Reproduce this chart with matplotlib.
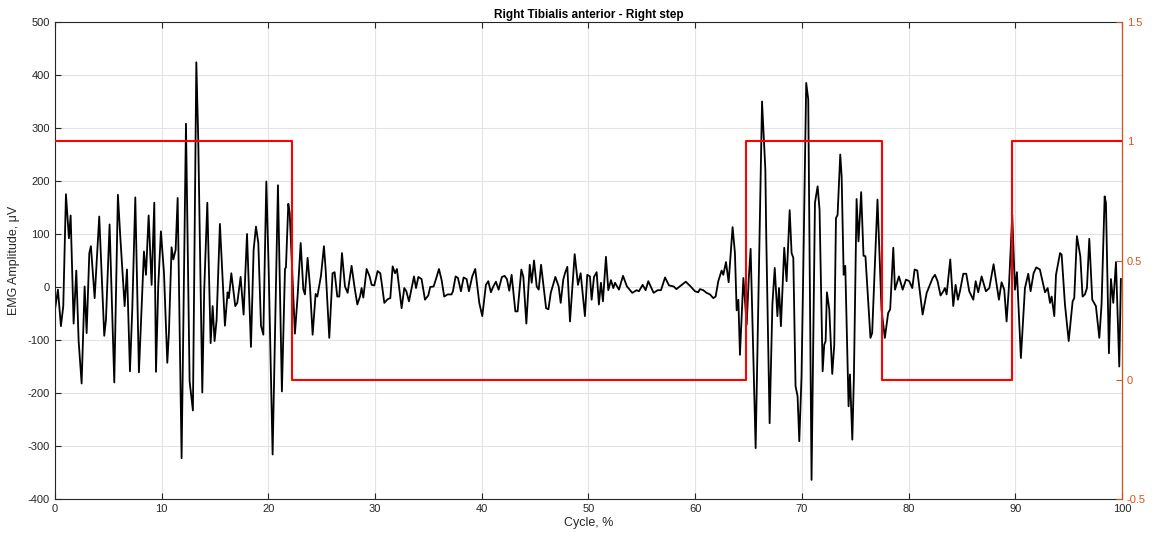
import numpy as np
import matplotlib
matplotlib.use("Agg")
from matplotlib import pyplot as plt

plt.rcParams['font.family'] = ['Liberation Sans', 'DejaVu Sans']
plt.rcParams['axes.unicode_minus'] = False

# EMG signal (cycle %, amplitude uV)
cycle = [0, 0.28, 0.56, 0.78, 1.03, 1.31, 1.47, 1.75, 2.0, 2.22, 2.5, 2.78, 2.97, 3.22, 3.37, 3.72,
         4.15, 4.62, 4.78, 5.12, 5.56, 5.9, 6.12, 6.53, 6.75, 7.03, 7.25, 7.53, 7.87, 8.34, 8.53,
         8.78, 9.06, 9.31, 9.47,
         9.68, 9.93, 10.22, 10.53, 10.68, 10.93, 11.09, 11.31, 11.5, 11.87, 12.28, 12.62, 12.93,
         13.25, 13.43, 13.81, 13.99, 14.28, 14.59, 14.78, 14.96, 15.15, 15.46, 15.93, 16.18, 16.3,
         16.53, 16.9, 17.09, 17.4, 17.68, 18.0, 18.37, 18.62, 18.84, 19.06, 19.31, 19.53,
         19.81, 20.03, 20.4, 20.9, 21.27, 21.56, 21.65, 21.87, 22.0, 22.49, 22.74, 23.03, 23.28,
         23.43, 23.68, 23.9, 24.15, 24.43, 24.59, 24.93, 25.21, 25.37, 25.71, 26.02, 26.21, 26.46,
         26.65, 26.9, 27.18, 27.43, 27.8, 28.09, 28.34, 28.59, 28.74, 28.9, 29.21,
         29.49, 29.68, 29.93, 30.24, 30.49, 30.62, 30.87, 31.18, 31.43, 31.65, 31.87, 32.05, 32.49,
         32.74, 32.93, 33.18, 33.65, 33.84, 34.06, 34.36, 34.68, 34.99, 35.17, 35.49, 35.71, 35.99,
         36.24, 36.48, 36.8, 37.17, 37.3, 37.55, 37.77, 38.05, 38.3, 38.58, 38.8, 39.11, 39.39,
         39.77, 40.05, 40.39, 40.61, 40.86, 41.08, 41.33, 41.58, 41.89, 42.14, 42.36, 42.58, 42.8,
         43.15, 43.36, 43.71, 43.9, 44.18, 44.5, 44.68, 44.9, 45.15, 45.34, 45.56, 46.03, 46.25,
         46.47, 46.9, 47.21, 47.4, 47.64, 47.8, 48.02, 48.27, 48.71, 49.02, 49.27, 49.67,
         49.89, 50.14, 50.3, 50.52, 50.77, 50.98, 51.17, 51.36, 51.64, 51.86, 52.11, 52.33, 52.49,
         52.86, 53.24, 53.61, 54.11, 54.52, 54.73, 55.08, 55.36, 55.61, 56.11, 56.49, 56.8, 57.18,
         57.55, 57.99, 58.24, 58.74, 59.12,
         59.58, 59.98, 60.29, 60.45, 60.76, 61.07, 61.39, 61.7, 61.92, 62.17, 62.48, 62.64, 62.89,
         63.14, 63.51, 63.73, 63.89, 64.05, 64.2, 64.52, 64.83, 65.02, 65.2, 65.67, 66.27, 66.58,
         66.67, 66.98, 67.24, 67.46, 67.71, 67.86, 68.04, 68.35, 68.57, 68.86,
         69.04, 69.2, 69.41, 69.6, 69.76, 69.97, 70.13, 70.41, 70.6, 70.91, 71.23, 71.48, 71.66,
         71.95, 72.1, 72.23, 72.35, 72.57, 72.85, 73.04, 73.2, 73.35, 73.6, 73.73, 73.92, 74.07,
         74.38, 74.51, 74.73, 74.88, 75.13, 75.31, 75.56, 75.78, 75.96, 76.43, 76.59, 77.09, 77.47,
         77.78, 78.09, 78.28,
         78.57, 78.73, 79.1, 79.45, 79.76, 80.07, 80.35, 80.57, 80.82, 81.07, 81.32, 81.7, 82.0,
         82.26, 82.48, 82.72, 83.0, 83.26, 83.41, 83.57, 83.91, 84.19, 84.41, 84.63, 84.82, 85.13,
         85.41, 85.69, 86.07, 86.29, 86.53, 86.85, 87.25, 87.57, 87.97,
         88.47, 88.72, 88.97, 89.19, 89.41, 89.72, 89.97, 90.16, 90.53, 90.91, 91.22, 91.44, 91.72,
         91.97, 92.31, 92.79, 93.04, 93.26, 93.41, 93.66, 93.82, 94.2, 94.35, 94.66, 95.01, 95.38,
         95.53, 95.78, 96.1, 96.31, 96.53, 96.72, 96.94, 97.22, 97.56, 97.88, 98.09, 98.38, 98.5,
         98.78, 98.97, 99.19, 99.44, 99.75, 99.9]
emg = [-43, -5, -74, -36, 175, 92, 135, -69, 31, -102, -182, 1, -87, 64, 77, -21,
       133, -92, -62, 118, -180, 174, 96, -36, 33, -159, -40, 169, -161, 67, 23,
       135, 4, 159, -160,
       1, 105, 26, -143, -87, 75, 52, 70, 168, -323, 308, -178, -233,
       424, 278, -199, -5, 159, -106, -36, -102, -62, 119, -73, -10, -21,
       26, -36, -30, 19, -52, 100, -113, 70, 114, 83, -73, -90,
       199, 34, -316, 192, -197, 34, 37, 157, 140, -88, -18, 83, -5,
       -14, 55, 1, -90, -13, -18, 21, 77, 33, -96, 26, 28, -18,
       -18, 64, 1, -11, 40, -2, -33, -18, -2, -20, 34,
       20, 4, 3, 30, 26, 8, -30, -23, -21, 39, 26, 34, -40,
       -2, -8, -27, 20, -2, 19, 15, -24, -16, 0, 1, 15, 34,
       13, -18, -14, -14, -8, 20, 17, -8, 18, 15, -8, 20, 34,
       -30, -55, 4, 11, -10, 1, 10, -5, 19, 21, 15, -7, 23,
       -46, -46, 33, 19, -69, 42, 8, 50, 1, -5, 42, -40, -42,
       -11, 19, 1, -30, 14, 26, 38, -65, 62, 4, 26, -55,
       23, 20, -24, 19, 28, -33, 8, -27, 57, -6, 13, -2, 8,
       -5, 21, 1, -11, -6, -8, 4, -6, 11, -11, -6, -6, 18,
       3, 1, -4, 4, 10,
       1, -8, -10, -4, -6, -11, -14, -21, -18, 11, 31, 23, 47,
       9, 113, 64, -44, -24, -128, 17, -71, 14, 72, -304, 350, 221,
       89, -257, -33, 36, -55, -2, -74, 74, 11, 145,
       64, 55, -187, -206, -291, -169, 26, 385, 354, -364, 159, 190, 146,
       -159, -109, -102, -10, -42, -164, -109, 130, 136, 250, 209, 23, 40,
       -225, -165, -288, -169, 166, 86, 179, 59, 58, -96, -87, 165, -43,
       -96, -49, -42,
       74, -5, 20, -5, 14, 11, -2, 33, 31, -11, -52, -11, 4,
       17, 23, 11, -16, -8, -2, -14, 52, -36, 4, -24, -8, 25,
       25, -8, -24, 11, -10, 20, -8, -2, 43,
       -24, 9, -5, -65, 1, 136, -5, 28, -134, -2, 25, -8, 26,
       37, 33, -10, -2, -30, -18, -55, 23, 64, 61, -33, -102, -27,
       -21, 96, 58, -18, -14, -2, 91, -24, -36, -96, -33, 171, 159,
       -125, 15, -30, 47, -150, 15]

# stance/swing switching (cycle %) and state after each switch
switch_pct = [0, 22.24, 64.75, 77.55, 89.65, 100]
switch_state = [1, 0, 1, 0, 1, 1]

right_color = '#D95319'

fig = plt.figure(figsize=(11.52, 5.33), dpi=100)
ax = fig.add_axes([0.0477, 0.0638, 0.9262, 0.8949])
ax.plot(cycle, emg, color='black', lw=1.3)
ax.set_xlim(0, 100)
ax.set_ylim(-400, 500)
ax.set_xticks(np.arange(0, 101, 10))
ax.set_yticks(np.arange(-400, 501, 100))
ax.grid(True, color='#e3e3e3', lw=0.8)
ax.set_axisbelow(True)
ax.tick_params(direction='in', length=4, labelsize=8, colors='#262626', top=True)
ax.set_xlabel('Cycle, %', fontsize=9, color='#262626', labelpad=2)
ax.set_ylabel('EMG Amplitude, μV', fontsize=9, color='#262626', labelpad=6)
ax.set_title('Right Tibialis anterior - Right step', fontsize=8.5, fontweight='bold', pad=3)
for side in ['left', 'bottom', 'top']:
    ax.spines[side].set_color('#262626')
    ax.spines[side].set_linewidth(0.8)

ax2 = ax.twinx()
ax2.step(switch_pct, switch_state, where='post', color='red', lw=1.5)
ax2.set_ylim(-0.5, 1.5)
ax2.set_yticks([-0.5, 0, 0.5, 1, 1.5])
ax2.set_yticklabels(['-0.5', '0', '0.5', '1', '1.5'])
ax2.tick_params(direction='in', length=4, labelsize=8, colors=right_color)
ax2.spines['right'].set_color(right_color)
ax2.spines['right'].set_linewidth(0.8)
ax2.spines['left'].set_visible(False)
ax2.spines['top'].set_visible(False)
ax2.spines['bottom'].set_visible(False)

fig.savefig('out.png', dpi=100)
